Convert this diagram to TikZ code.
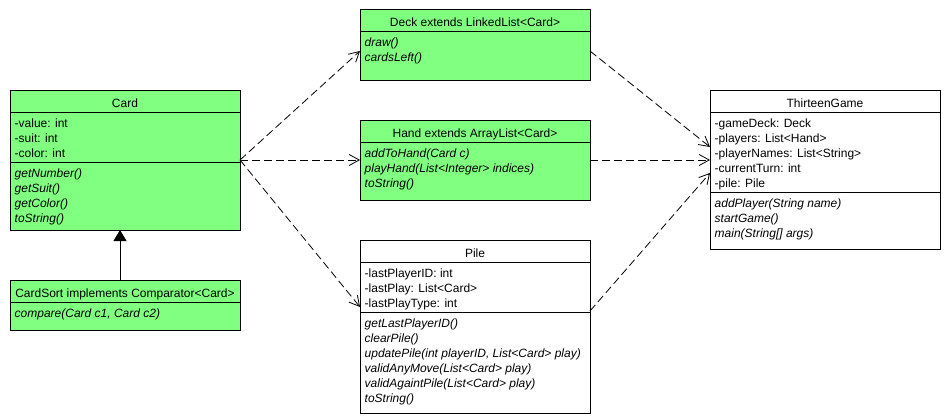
\documentclass[tikz,border=0pt]{standalone}
\usepackage{fontspec}
\setmainfont{Liberation Sans}
\usetikzlibrary{arrows.meta}
\definecolor{classgreen}{RGB}{128,255,128}
\begin{document}
\begin{tikzpicture}[x=1pt,y=-1pt,
  font=\fontsize{12}{15}\selectfont,
  classbox/.style={draw=black, line width=1pt, minimum width=230pt, inner sep=0pt, outer sep=0pt},
  greenbox/.style={classbox, fill=classgreen},
  whitebox/.style={classbox, fill=white},
  divider/.style={line width=1pt},
  title/.style={anchor=base, inner sep=0pt},
  member/.style={anchor=base west, inner sep=0pt},
  op/.style={member, font=\fontsize{12}{15}\selectfont\itshape},
  depends/.style={line width=0.8pt, dash pattern=on 8pt off 4pt,
    -{Straight Barb[length=10pt,width=11pt,line width=0.8pt]}},
  extends/.style={line width=1pt, -{Triangle[length=11pt,width=13pt]}},
]
\useasboundingbox (0,0) rectangle (950,420);

% ---- class boxes ----
\node[greenbox, minimum height=140pt] (card)     at (125,160)   {};
\node[greenbox, minimum height=50pt]  (cardsort) at (125,305)   {};
\node[greenbox, minimum height=70pt]  (deck)     at (475,45)    {};
\node[greenbox, minimum height=80pt]  (hand)     at (475,160)   {};
\node[whitebox, minimum height=173pt] (pile)     at (475,326.5) {};
\node[whitebox, minimum height=159pt] (game)     at (825,169.5) {};

% ---- compartment dividers ----
\draw[divider] (10,112) -- (240,112)  (10,162) -- (240,162);
\draw[divider] (10,302) -- (240,302);
\draw[divider] (360,32) -- (590,32);
\draw[divider] (360,142) -- (590,142);
\draw[divider] (360,262) -- (590,262)  (360,312) -- (590,312);
\draw[divider] (710,112) -- (940,112)  (710,192) -- (940,192);

% ---- Card ----
\node[title] (card-t) at (125,107) {Card};
\foreach \t [count=\i] in {-value: int, -suit: int, -color: int}
  \node[member] (card-a\i) at (14.5,{112+15*\i}) {\t};
\foreach \t [count=\i] in {getNumber(), getSuit(), getColor(), toString()}
  \node[op] (card-m\i) at (14.5,{162+15*\i}) {\t};

% ---- CardSort ----
\node[title] (cardsort-t) at (125,297) {CardSort implements Comparator<Card>};
\node[op] (cardsort-m1) at (14.5,317) {compare(Card c1, Card c2)};

% ---- Deck ----
\node[title] (deck-t) at (475,27) {Deck extends LinkedList<Card>};
\foreach \t [count=\i] in {draw(), cardsLeft()}
  \node[op] (deck-m\i) at (364.5,{32+15*\i}) {\t};

% ---- Hand ----
\node[title] (hand-t) at (475,137) {Hand extends ArrayList<Card>};
\foreach \t [count=\i] in {addToHand(Card c), playHand(List<Integer> indices), toString()}
  \node[op] (hand-m\i) at (364.5,{142+15*\i}) {\t};

% ---- Pile ----
\node[title] (pile-t) at (475,257) {Pile};
\foreach \t [count=\i] in {-lastPlayerID: int, -lastPlay: List<Card>, -lastPlayType: int}
  \node[member] (pile-a\i) at (364.5,{262+15*\i}) {\t};
\foreach \t [count=\i] in {getLastPlayerID(), clearPile(),
    {updatePile(int playerID, List<Card> play)}, validAnyMove(List<Card> play),
    validAgaintPile(List<Card> play), toString()}
  \node[op] (pile-m\i) at (364.5,{312+15*\i}) {\t};

% ---- ThirteenGame ----
\node[title] (game-t) at (825,107) {ThirteenGame};
\foreach \t [count=\i] in {-gameDeck: Deck, -players: List<Hand>,
    -playerNames: List<String>, -currentTurn: int, -pile: Pile}
  \node[member] (game-a\i) at (714.5,{112+15*\i}) {\t};
\foreach \t [count=\i] in {addPlayer(String name), startGame(), main(String[] args)}
  \node[op] (game-m\i) at (714.5,{192+15*\i}) {\t};

% ---- relations ----
\draw[extends] ([xshift=-5pt]cardsort.north) -- ([xshift=-5pt]card.south);

\draw[depends] (card.east) -- ([yshift=-6pt]deck.west);
\draw[depends] (card.east) -- (hand.west);
\draw[depends] (card.east) -- ([yshift=19.5pt]pile.west);

\draw[depends] ([yshift=-6pt]deck.east) -- ([yshift=22.5pt]game.west);
\draw[depends] (hand.east) -- ([yshift=9.5pt]game.west);
\draw[depends] ([yshift=15.5pt]pile.east) -- ([yshift=-3.5pt]game.west);
\end{tikzpicture}
\end{document}
